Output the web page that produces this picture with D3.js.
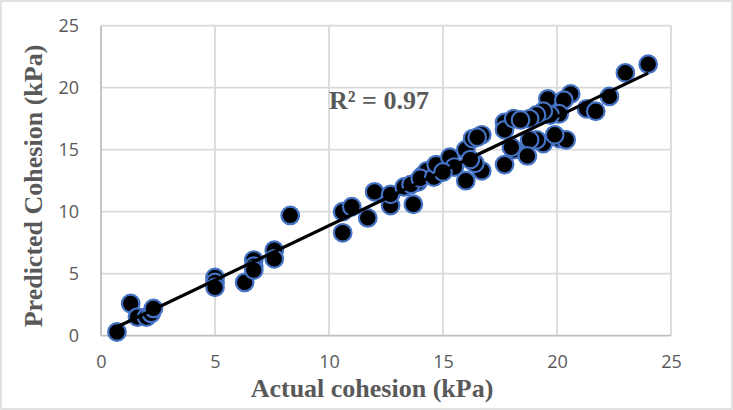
<!DOCTYPE html>
<html>
<head>
<meta charset="utf-8">
<script src="https://cdn.jsdelivr.net/npm/d3@7"></script>
<style>
  html, body { margin: 0; padding: 0; background: #fff; }
  svg { display: block; }
</style>
</head>
<body>
<svg id="chart" width="733" height="410"></svg>
<script>
// Actual vs predicted cohesion (kPa)
const actual = [
  0.7, 1.3, 1.6, 2.0, 2.2, 2.3, 5.0, 5.0, 5.0, 6.3,
  6.7, 6.7, 6.7, 7.6, 7.6, 8.3, 10.6, 11.0, 10.6, 11.7,
  12.0, 12.7, 12.7, 13.3, 13.7, 13.9, 14.1, 14.3, 13.6, 14.0,
  14.6, 14.7, 15.3, 15.5, 16.0, 16.0, 16.3, 16.7, 16.7, 16.4,
  17.7, 17.7, 17.7, 18.1, 18.1, 19.6, 20.6, 20.3, 21.3, 21.7,
  22.3, 20.1, 19.7, 19.4, 19.1, 18.8, 18.4, 20.1, 20.4, 19.4,
  19.1, 18.8, 18.7, 18.0, 23.0, 24.0, 19.9, 16.2, 15.0, 16.5
];
const predicted = [
  0.3, 2.6, 1.5, 1.5, 1.8, 2.2, 4.7, 4.3, 3.9, 4.3,
  6.1, 5.6, 5.3, 6.9, 6.2, 9.7, 10.0, 10.4, 8.3, 9.5,
  11.6, 10.5, 11.4, 12.0, 10.6, 12.4, 12.9, 13.3, 12.2, 12.7,
  12.8, 13.8, 14.4, 13.6, 15.0, 12.5, 15.9, 16.2, 13.3, 13.9,
  17.2, 16.6, 13.8, 15.0, 17.5, 19.1, 19.5, 19.0, 18.3, 18.1,
  19.3, 17.9, 17.8, 18.1, 17.8, 17.5, 17.4, 15.9, 15.8, 15.5,
  15.8, 15.8, 14.5, 15.2, 21.2, 21.9, 16.2, 14.2, 13.2, 16.0
];
const xTicks = [0, 5, 10, 15, 20, 25];
const yTicks = [0, 5, 10, 15, 20, 25];
const rSquaredLabel = "R² = 0.97";
const xTitle = "Actual cohesion (kPa)";
const yTitle = "Predicted Cohesion (kPa)";

const svg = d3.select("#chart");
const W = 733, H = 410;
const plot = { left: 101, right: 671, top: 25.7, bottom: 335.7 };

// chart area frame
svg.append("rect")
  .attr("x", 1).attr("y", 1).attr("width", W - 2).attr("height", H - 2)
  .attr("fill", "#fff").attr("stroke", "#d9d9d9").attr("stroke-width", 1.5);

const x = d3.scaleLinear().domain([0, 25]).range([plot.left, plot.right]);
const y = d3.scaleLinear().domain([0, 25]).range([plot.bottom, plot.top]);

const grid = svg.append("g");
// vertical gridlines
grid.selectAll("line.v").data(xTicks.filter(d => d > 0)).join("line")
  .attr("x1", d => x(d)).attr("x2", d => x(d))
  .attr("y1", plot.top).attr("y2", plot.bottom)
  .attr("stroke", "#d9d9d9").attr("stroke-width", 1.8);
// horizontal gridlines
grid.selectAll("line.h").data(yTicks.filter(d => d > 0)).join("line")
  .attr("x1", plot.left).attr("x2", plot.right)
  .attr("y1", d => y(d)).attr("y2", d => y(d))
  .attr("stroke", "#d9d9d9").attr("stroke-width", 1.8);

// axis lines
svg.append("line")
  .attr("x1", plot.left).attr("x2", plot.right)
  .attr("y1", plot.bottom).attr("y2", plot.bottom)
  .attr("stroke", "#bfbfbf").attr("stroke-width", 1.8);
svg.append("line")
  .attr("x1", plot.left).attr("x2", plot.left)
  .attr("y1", plot.top).attr("y2", plot.bottom)
  .attr("stroke", "#bfbfbf").attr("stroke-width", 1.8);

// tick labels via d3 axes (domain/ticks hidden)
const tickFont = "'Open Sans', 'Liberation Sans', sans-serif";
const xAxis = svg.append("g")
  .attr("transform", `translate(0,${plot.bottom})`)
  .call(d3.axisBottom(x).tickValues(xTicks).tickSize(0).tickPadding(22));
const yAxis = svg.append("g")
  .attr("transform", `translate(${plot.left},0)`)
  .call(d3.axisLeft(y).tickValues(yTicks).tickSize(0).tickPadding(22));
[xAxis, yAxis].forEach(a => {
  a.select(".domain").remove();
  a.selectAll("text")
    .attr("fill", "#595959")
    .style("font-family", tickFont)
    .style("font-size", "18px");
});
xAxis.selectAll("text").attr("dy", "0.55em");

// least-squares trendline over the data range
const n = actual.length;
const mx = d3.mean(actual), my = d3.mean(predicted);
let sxy = 0, sxx = 0;
for (let i = 0; i < n; i++) {
  sxy += (actual[i] - mx) * (predicted[i] - my);
  sxx += (actual[i] - mx) ** 2;
}
const slope = sxy / sxx, intercept = my - slope * mx;
const [x0, x1] = d3.extent(actual);

// points
const pts = actual.map((a, i) => ({ a, p: predicted[i] }));
svg.append("g").selectAll("circle").data(pts).join("circle")
  .attr("cx", d => x(d.a)).attr("cy", d => y(d.p)).attr("r", 8.8)
  .attr("fill", "#000").attr("stroke", "#4472c4").attr("stroke-width", 2.2);

svg.append("line")
  .attr("x1", x(x0)).attr("y1", y(slope * x0 + intercept))
  .attr("x2", x(x1)).attr("y2", y(slope * x1 + intercept))
  .attr("stroke", "#000").attr("stroke-width", 3.2);

const titleFont = "'Liberation Serif', 'Times New Roman', serif";
svg.append("text")
  .attr("x", 329).attr("y", 109)
  .attr("fill", "#595959")
  .style("font-family", titleFont).style("font-weight", "bold").style("font-size", "26px")
  .text(rSquaredLabel);

svg.append("text")
  .attr("x", 372).attr("y", 397)
  .attr("text-anchor", "middle").attr("fill", "#595959")
  .style("font-family", titleFont).style("font-weight", "bold").style("font-size", "26px")
  .text(xTitle);

svg.append("text")
  .attr("transform", `translate(42,186) rotate(-90)`)
  .attr("text-anchor", "middle").attr("fill", "#595959")
  .style("font-family", titleFont).style("font-weight", "bold").style("font-size", "26px")
  .text(yTitle);
</script>
</body>
</html>
